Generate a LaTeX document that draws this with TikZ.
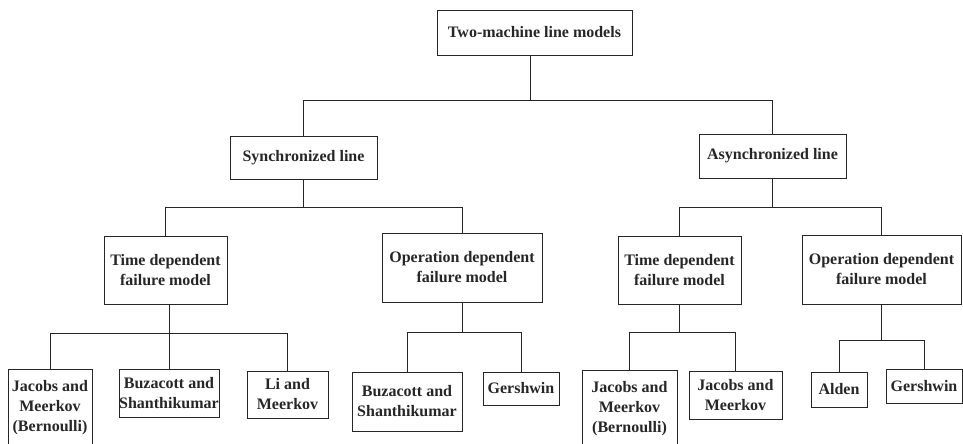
\documentclass[tikz,border=0pt]{standalone}
\usepackage{fontspec}
\setmainfont{Liberation Serif}
\begin{document}
\begin{tikzpicture}[x=1pt,y=-1pt,
  box/.style={draw=black!85,line width=0.9pt,font=\bfseries\fontsize{16}{20}\selectfont,
    align=center,inner sep=0pt,text=black!85},
  conn/.style={draw=black!85,line width=0.9pt}]
\useasboundingbox (0,0) rectangle (963,444);
% level 0
\node[box,minimum width=195pt,minimum height=45pt] (root) at (534.5,32.5) {Two-machine line models};
% level 1
\node[box,minimum width=147pt,minimum height=43pt] (sync) at (303.5,157.5) {Synchronized line};
\node[box,minimum width=147pt,minimum height=44pt] (async) at (772.5,156) {Asynchronized line};
% level 2
\node[box,minimum width=123pt,minimum height=68pt] (td1) at (165.5,270) {Time dependent\\failure model};
\node[box,minimum width=160pt,minimum height=69pt] (od1) at (462,267.5) {Operation dependent\\failure model};
\node[box,minimum width=123pt,minimum height=68pt] (td2) at (679.5,270) {Time dependent\\failure model};
\node[box,minimum width=159pt,minimum height=69pt] (od2) at (881.5,269.5) {Operation dependent\\failure model};
% level 3
\node[box,minimum width=84pt,minimum height=78pt] (l1) at (50,408) {Jacobs and\\Meerkov\\(Bernoulli)};
\node[box,minimum width=100pt,minimum height=48pt] (l2) at (169,393) {Buzacott and\\Shanthikumar};
\node[box,minimum width=81pt,minimum height=47pt] (l3) at (287.5,394.5) {Li and\\Meerkov};
\node[box,minimum width=110pt,minimum height=59pt] (l4) at (407,401.5) {Buzacott and\\Shanthikumar};
\node[box,minimum width=76pt,minimum height=33pt] (l5) at (521,388.5) {Gershwin};
\node[box,minimum width=95pt,minimum height=78pt] (l6) at (629.5,409) {Jacobs and\\Meerkov\\(Bernoulli)};
\node[box,minimum width=93pt,minimum height=48pt] (l7) at (735.5,395) {Jacobs and\\Meerkov};
\node[box,minimum width=56pt,minimum height=35pt] (l8) at (839,389.5) {Alden};
\node[box,minimum width=76pt,minimum height=34pt] (l9) at (924,386) {Gershwin};
% bar levels
\coordinate (y0) at (0,100);
\coordinate (y1) at (0,207);
\coordinate (y2) at (0,333);
\coordinate (y3) at (0,332);
\coordinate (y4) at (0,332);
\coordinate (y5) at (0,340);
% connectors
\draw[conn] ([xshift=-4pt]root.south) -- ([xshift=-4pt]root.south |- y0);
\draw[conn] (sync.north) |- (async.north |- y0) -- (async.north);
\draw[conn] (sync.south) -- (sync.south |- y1);
\draw[conn] (td1.north) |- (od1.north |- y1) -- (od1.north);
\draw[conn] (async.south) -- (async.south |- y1);
\draw[conn] (td2.north) |- (od2.north |- y1) -- (od2.north);
\draw[conn] (td1.south -| l2.north) -- (l2.north);
\draw[conn] (l1.north) |- (l3.north |- y2) -- (l3.north);
\draw[conn] (od1.south) -- (od1.south |- y3);
\draw[conn] (l4.north) |- (l5.north |- y3) -- (l5.north);
\draw[conn] (td2.south) -- (td2.south |- y4);
\draw[conn] (l6.north) |- (l7.north |- y4) -- (l7.north);
\draw[conn] (od2.south) -- (od2.south |- y5);
\draw[conn] (l8.north) |- (l9.north |- y5) -- (l9.north);
\end{tikzpicture}
\end{document}
